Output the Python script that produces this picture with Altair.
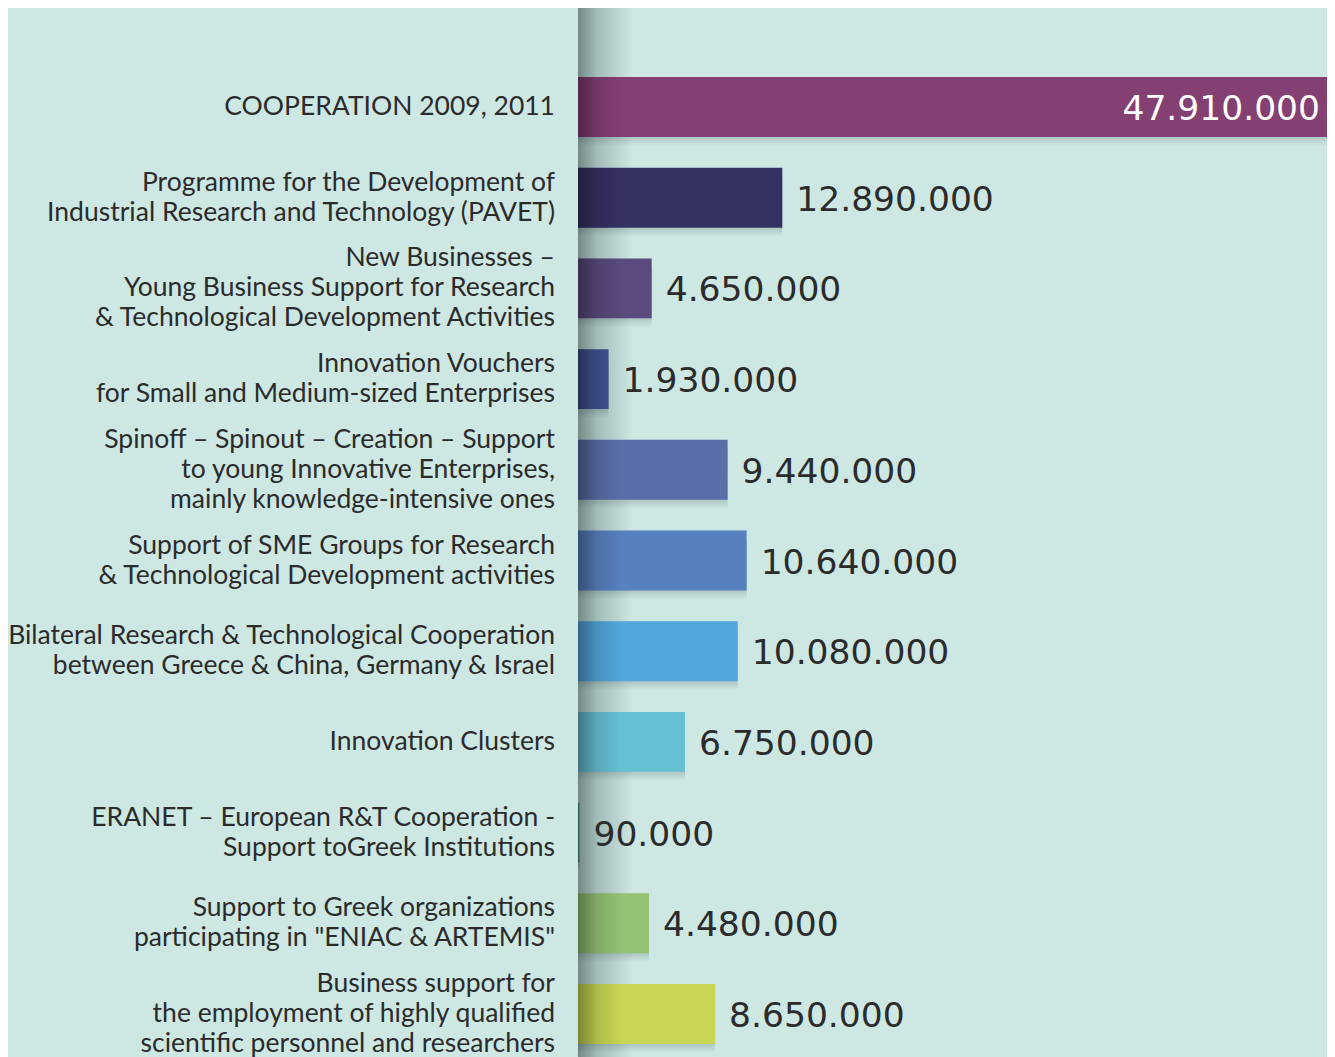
import altair as alt
import pandas as pd

labels = [
    "COOPERATION 2009, 2011",
    "Programme for the Development of\nIndustrial Research and Technology (PAVET)",
    "New Businesses –\nYoung  Business Support for Research\n& Technological Development Activities",
    "Innovation Vouchers\nfor Small and Medium-sized Enterprises",
    "Spinoff – Spinout – Creation – Support\nto young Innovative Enterprises,\nmainly knowledge-intensive ones",
    "Support of SME Groups for Research\n& Technological Development activities",
    "Bilateral Research & Technological Cooperation\nbetween Greece & China, Germany & Israel",
    "Innovation Clusters",
    "ERANET – European R&T Cooperation -\nSupport toGreek Institutions",
    "Support to  Greek organizations\nparticipating in \"ENIAC & ARTEMIS\"",
    "Business support for\nthe employment of highly qualified\nscientific personnel and researchers",
]
values = [47910000, 12890000, 4650000, 1930000, 9440000, 10640000,
          10080000, 6750000, 90000, 4480000, 8650000]
value_text = ["47.910.000", "12.890.000", "4.650.000", "1.930.000", "9.440.000",
              "10.640.000", "10.080.000", "6.750.000", "90.000", "4.480.000", "8.650.000"]
colors = ["#843f73", "#363163", "#5a4a7e", "#3d4e8a", "#5a6ea8", "#5780bf",
          "#52a6dc", "#66c0d4", "#2e6e5e", "#93c273", "#c8d654"]

ids = list(range(len(labels)))
df = pd.DataFrame({"id": ids, "label": labels, "value": values,
                   "vtext": value_text, "color": colors})
df["ov"] = df["value"].clip(upper=2800000)
df["nlines"] = [l.count("\n") + 1 for l in labels]

W, H = 749, 1049
BG = "#cde7e3"
LH = 30

yenc = alt.Y("id:O", axis=None,
             scale=alt.Scale(domain=ids, range=[53.65, 1051.35],
                             paddingInner=0.34, paddingOuter=0.17))
xscale = alt.Scale(domain=[0, 47260000])

base = alt.Chart(df)

# vertical shadow along the baseline
vshadow = alt.Chart(pd.DataFrame({"k": [0]})).mark_rect(
    fill=alt.Gradient(gradient="linear", x1=0, x2=1, y1=0, y2=0,
                      stops=[alt.GradientStop(offset=0, color="rgba(40,60,58,0.55)"),
                             alt.GradientStop(offset=0.35, color="rgba(40,60,58,0.25)"),
                             alt.GradientStop(offset=1, color="rgba(40,60,58,0)")])
).encode(x=alt.value(0), x2=alt.value(55), y=alt.value(0), y2=alt.value(H))

# drop shadow below bars
dshadow = base.mark_bar(
    yOffset=9, clip=True,
    fill=alt.Gradient(gradient="linear", x1=0, x2=0, y1=0, y2=1,
                      stops=[alt.GradientStop(offset=0, color="rgba(30,50,48,0.25)"),
                             alt.GradientStop(offset=0.85, color="rgba(30,50,48,0.18)"),
                             alt.GradientStop(offset=1, color="rgba(30,50,48,0)")])
).encode(x=alt.X("value:Q", scale=xscale, axis=None), y=yenc)

bars = base.mark_bar(clip=True).encode(
    x=alt.X("value:Q", scale=xscale, axis=None),
    y=yenc,
    color=alt.Color("color:N", scale=None),
)

# darker left edge of each bar
edge = base.mark_bar(
    clip=True,
    fill=alt.Gradient(gradient="linear", x1=0, x2=1, y1=0, y2=0,
                      stops=[alt.GradientStop(offset=0, color="rgba(0,0,0,0.38)"),
                             alt.GradientStop(offset=0.45, color="rgba(0,0,0,0.12)"),
                             alt.GradientStop(offset=1, color="rgba(0,0,0,0)")])
).encode(x=alt.X("ov:Q", scale=xscale, axis=None), y=yenc)

cat_layers = []
for n in (1, 2, 3):
    cat_layers.append(
        base.transform_filter(f"datum.nlines == {n}").mark_text(
            align="right", baseline="middle", font="Lato", fontSize=26.5,
            lineHeight=LH, lineBreak="\n", color="#2b2b2b",
            dy=-(n - 1) * LH / 2,
        ).encode(x=alt.value(-23), y=yenc, text="label:N")
    )

val_text = base.transform_filter("datum.id > 0").mark_text(
    align="left", baseline="middle", dx=14, dy=3, font="DejaVu Sans",
    fontSize=34.5, color="#2b2b2b"
).encode(x=alt.X("value:Q", scale=xscale, axis=None), y=yenc, text="vtext:N")

top_text = base.transform_filter("datum.id == 0").mark_text(
    align="right", baseline="middle", dy=3, font="DejaVu Sans",
    fontSize=34.5, color="white"
).encode(x=alt.value(742), y=yenc, text="vtext:N")

chart = alt.layer(vshadow, dshadow, bars, edge, *cat_layers, val_text, top_text).properties(
    width=W, height=H,
    padding={"left": 570, "top": 0, "right": 0, "bottom": 0},
    autosize=alt.AutoSizeParams(type="none"),
    background=BG,
).configure_view(stroke=None)

chart.save("out.html", embed_options={"renderer": "svg", "actions": False})
